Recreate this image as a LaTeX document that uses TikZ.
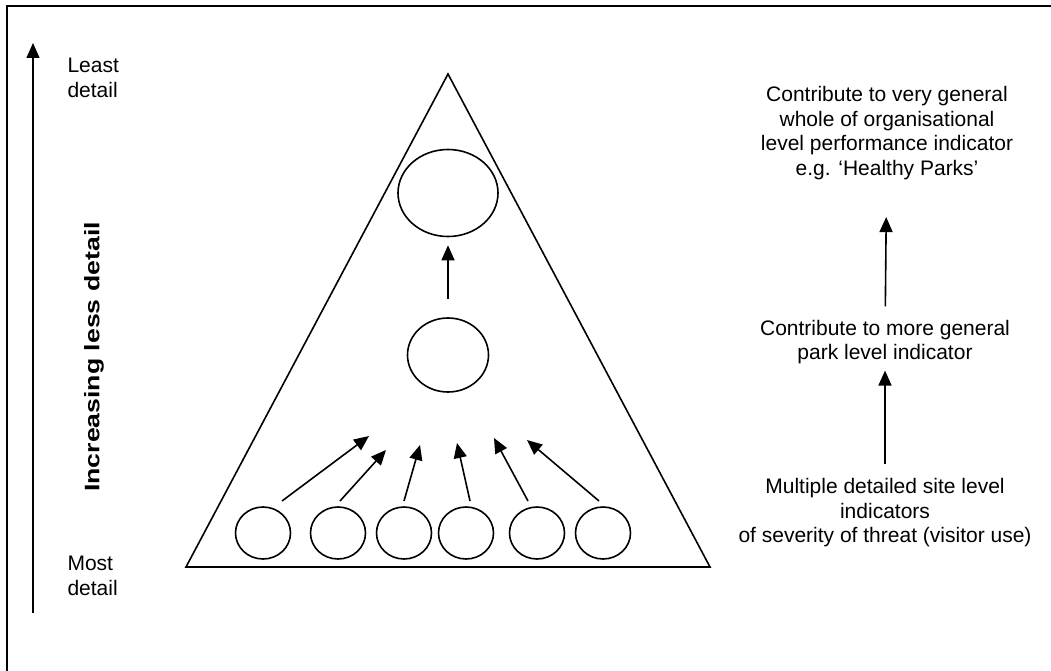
\documentclass[tikz,border=0pt]{standalone}
\usepackage{fontspec}
\setmainfont{Liberation Sans}
\usetikzlibrary{shapes.geometric,arrows.meta}
\tikzstyle{myline}=[black,line width=1.6pt]
\tikzstyle{myarrow}=[black,line width=1.6pt,-{Triangle[length=15pt,width=13pt]}]
\tikzstyle{myoval}=[ellipse,draw,line width=1.6pt,inner sep=0pt]
\tikzstyle{mytext}=[align=center,font=\fontsize{21}{24.5}\selectfont]

\begin{document}
\begin{tikzpicture}[x=1pt,y=-1pt]
	\useasboundingbox (0,0) rectangle (1051,671);
	% frame (cut at right and bottom)
	\draw[line width=2pt] (7,671) -- (7,6) -- (1051,6);
	% left scale
	\coordinate (lo) at (33,613);
	\coordinate (hi) at (33,43);
	\draw[myarrow] (lo) -- (hi);
	\node[mytext,align=left,anchor=west] (least) at (64,78) {Least\\detail};
	\node[mytext,align=left,anchor=west] (most) at (64,576) {Most\\detail};
	\node[rotate=90,font=\fontsize{21}{24}\selectfont\bfseries] (incr) at (94,357) {\scalebox{1.27}[1]{Increasing less detail}};
	% pyramid
	\draw[myline,line join=miter] (448,74) -- (710,567) -- (186,567) -- cycle;
	\node[myoval,minimum width=100pt,minimum height=87pt] (top) at (448,193) {};
	\node[myoval,minimum width=81pt,minimum height=74pt] (mid) at (448,355) {};
	\draw[myarrow,shorten <=18pt,shorten >=8pt] (mid) -- (top);
		\foreach \i / \x in {1/263,2/338,3/404,4/466,5/537,6/603}{ \node[myoval,minimum width=55pt,minimum height=52pt] (c\i) at (\x,533) {};}
		\foreach \i / \sx / \tx / \ty in {1/282/369/436,2/340/386/450,3/404/420/445,4/470/457/443,5/528/494/438,6/599/527/440}{
			\coordinate (s\i) at (\sx,501);
			\coordinate (t\i) at (\tx,\ty);
			\draw[myarrow] (s\i) -- (t\i);}
	% right hand side
	\node[mytext] (org) at (887,133) {Contribute to very general\\whole of organisational\\level performance indicator\\e.g. `Healthy Parks'};
	\node[mytext] (park) at (885,342) {Contribute to more general\\park level indicator};
	\node[mytext] (site) at (885,513) {Multiple detailed site level\\indicators\\of severity of threat (visitor use)};
	\draw[myarrow,shorten <=11pt,shorten >=3pt] (site) -- (park);
	\draw[myarrow,shorten <=10pt,shorten >=34pt] (park) -- (org);
\end{tikzpicture}
\end{document}
